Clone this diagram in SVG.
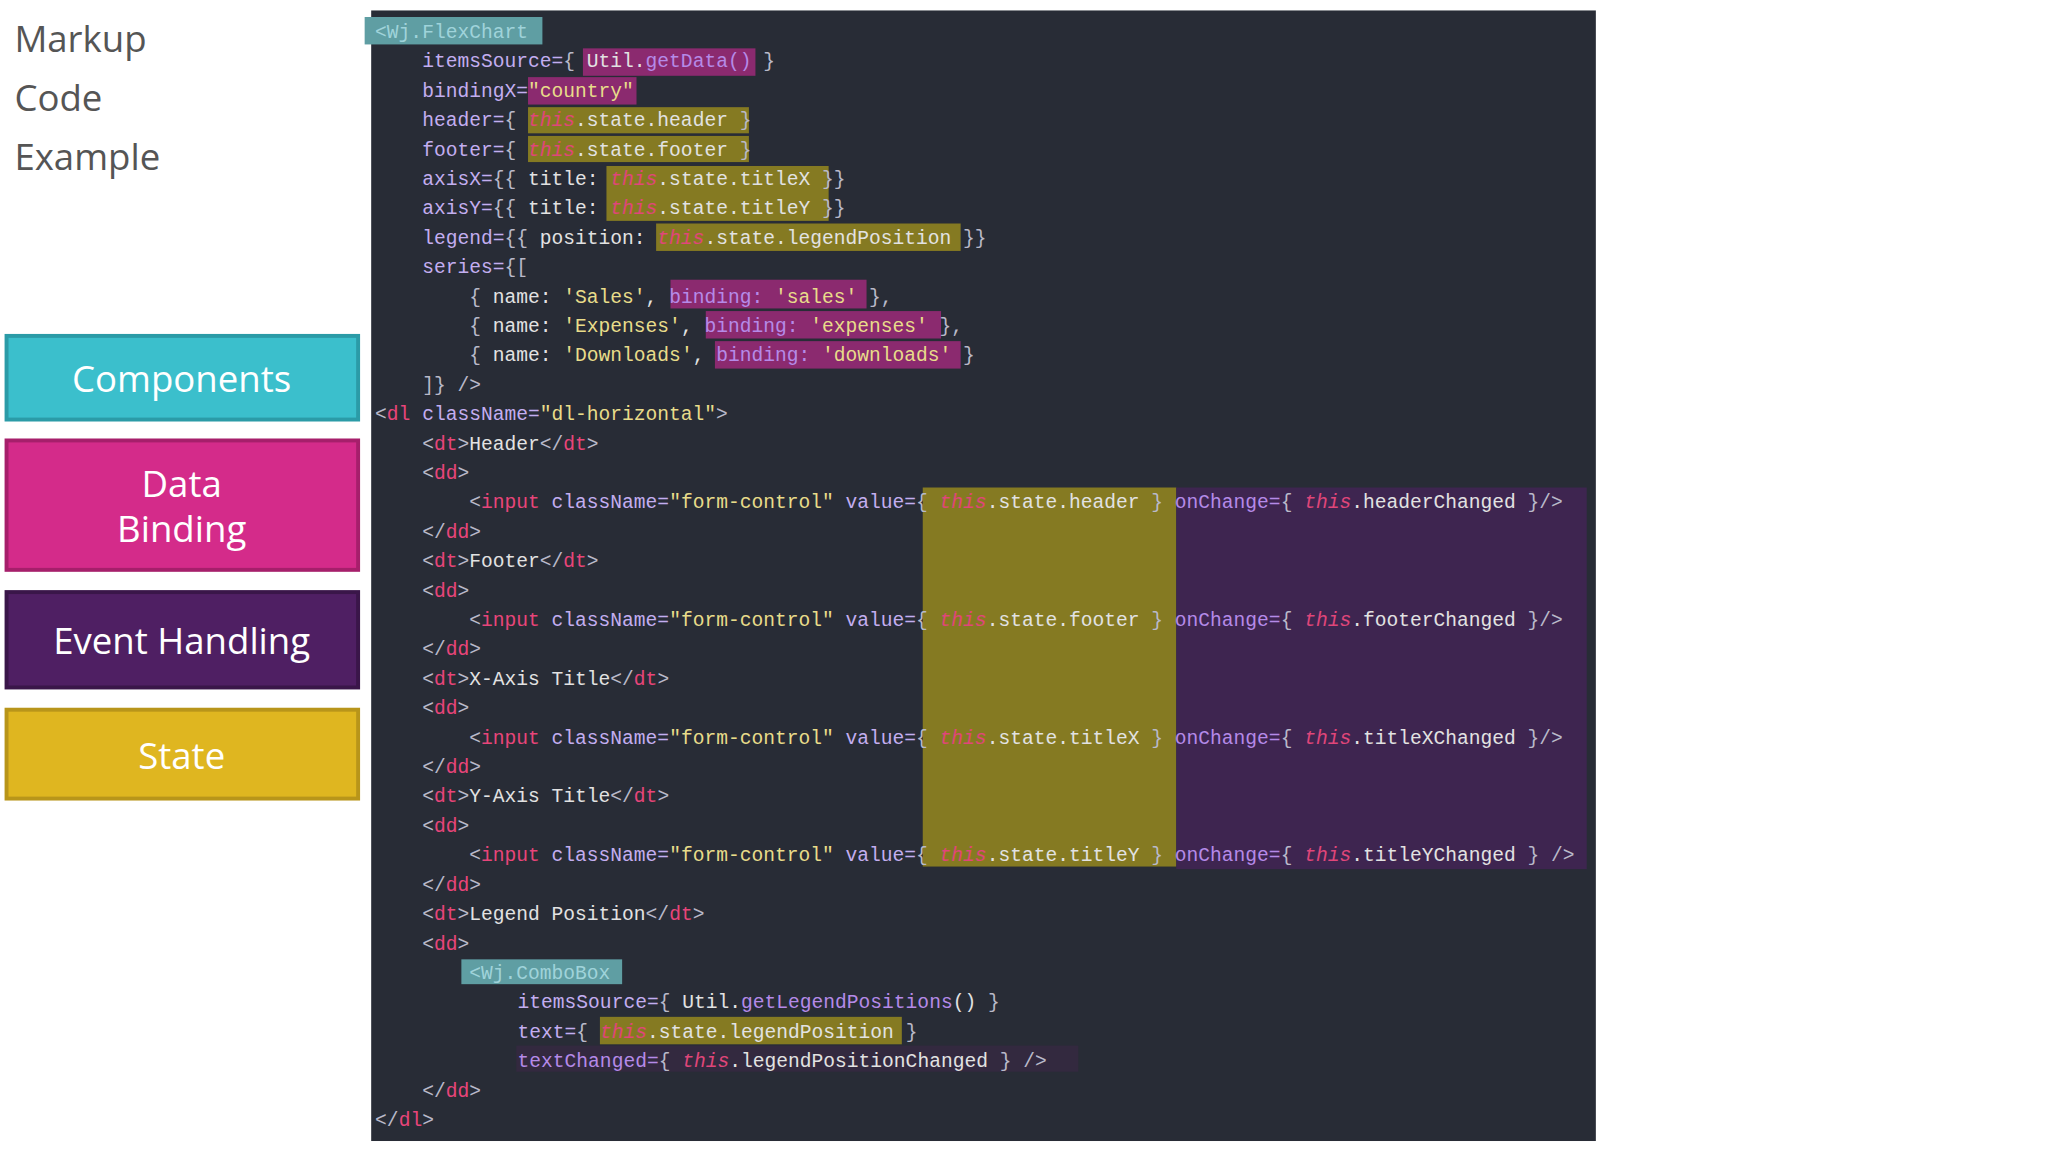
<svg xmlns="http://www.w3.org/2000/svg" width="2048" height="1152" viewBox="0 0 2048 1152">
<style>
.code{font-family:"Liberation Mono","DejaVu Sans Mono",monospace;font-size:15px;fill:#e6e6e6;white-space:pre}
.t{fill:#e8457a}.a{fill:#c3aef0}.s{fill:#e8dc8a}.w{fill:#e2e2e2}.th{fill:#e0467a;font-style:italic}.p{fill:#b9b9c9}.f{fill:#b58ae8}.c{fill:#9fd3da}
.lbl{font-family:"Open Sans","Noto Sans",sans-serif;font-size:28px;fill:#fff;text-anchor:middle}
.side{font-family:"Open Sans","Noto Sans",sans-serif;font-size:28px;fill:#555}
.hm{fill:#8b2a6f}.ho{fill:#857a22}.ht{fill:#5f9ea3}
</style>
<rect width="2048" height="1152" fill="#fff"/>
<g transform="scale(1.307)">
<g id="titles">
<text class="side" x="11" y="40">Markup</text>
<text class="side" x="11" y="85">Code</text>
<text class="side" x="11" y="130">Example</text>
</g>
<g id="components"><rect x="5" y="257" width="269" height="64" fill="#3bbfcc" stroke="#2b9ba7" stroke-width="3"/><text class="lbl" x="139" y="300">Components</text></g>
<g id="databinding"><rect x="5" y="337" width="269" height="99" fill="#d42b8a" stroke="#a61f6b" stroke-width="3"/><text class="lbl" x="139" y="380">Data</text><text class="lbl" x="139" y="415">Binding</text></g>
<g id="eventhandling"><rect x="5" y="453" width="269" height="73" fill="#4f1f63" stroke="#3a1649" stroke-width="3"/><text class="lbl" x="139" y="500">Event Handling</text></g>
<g id="state"><rect x="5" y="543" width="269" height="68" fill="#dfb620" stroke="#b8951a" stroke-width="3"/><text class="lbl" x="139" y="588">State</text></g>
<g id="code">
<rect x="284" y="8" width="937" height="865" fill="#282c36"/>
<rect class="ht" x="279" y="13" width="136" height="21"/>
<rect class="hm" x="446" y="37" width="132" height="21"/>
<rect class="hm" x="404" y="59" width="83" height="21"/>
<rect class="ho" x="404" y="82" width="169" height="20"/>
<rect class="ho" x="404" y="104" width="169" height="20"/>
<rect class="ho" x="464" y="127" width="170" height="42"/>
<rect class="ho" x="502" y="171" width="233" height="21"/>
<rect class="hm" x="513" y="214" width="150" height="22"/>
<rect class="hm" x="540" y="238" width="180" height="21"/>
<rect class="hm" x="547" y="261" width="188" height="21"/>
<rect class="ho" x="706" y="373" width="194" height="290"/>
<rect x="900" y="373" width="314" height="292" fill="#3e2550"/>
<rect class="ht" x="353" y="734" width="123" height="19"/>
<rect class="ho" x="459" y="778" width="231" height="21"/>
<rect x="395" y="800" width="430" height="20" fill="#33293f"/>
<g class="code" xml:space="preserve">
<text x="287" y="29"><tspan class="c">&lt;Wj.FlexChart</tspan></text>
<text x="323" y="51.5"><tspan class="a">itemsSource=</tspan><tspan class="p">{ </tspan><tspan class="w">Util.</tspan><tspan class="f">getData()</tspan><tspan class="p"> }</tspan></text>
<text x="323" y="74"><tspan class="a">bindingX=</tspan><tspan class="s">"country"</tspan></text>
<text x="323" y="96.5"><tspan class="a">header=</tspan><tspan class="p">{ </tspan><tspan class="th">this</tspan><tspan class="w">.state.header </tspan><tspan class="p">}</tspan></text>
<text x="323" y="119"><tspan class="a">footer=</tspan><tspan class="p">{ </tspan><tspan class="th">this</tspan><tspan class="w">.state.footer </tspan><tspan class="p">}</tspan></text>
<text x="323" y="141.5"><tspan class="a">axisX=</tspan><tspan class="p">{{ </tspan><tspan class="w">title: </tspan><tspan class="th">this</tspan><tspan class="w">.state.titleX </tspan><tspan class="p">}}</tspan></text>
<text x="323" y="164"><tspan class="a">axisY=</tspan><tspan class="p">{{ </tspan><tspan class="w">title: </tspan><tspan class="th">this</tspan><tspan class="w">.state.titleY </tspan><tspan class="p">}}</tspan></text>
<text x="323" y="186.5"><tspan class="a">legend=</tspan><tspan class="p">{{ </tspan><tspan class="w">position: </tspan><tspan class="th">this</tspan><tspan class="w">.state.legendPosition </tspan><tspan class="p">}}</tspan></text>
<text x="323" y="209"><tspan class="a">series=</tspan><tspan class="p">{[</tspan></text>
<text x="359" y="231.5"><tspan class="p">{ </tspan><tspan class="w">name: </tspan><tspan class="s">'Sales'</tspan><tspan class="w">, </tspan><tspan class="f">binding: </tspan><tspan class="s">'sales' </tspan><tspan class="p">},</tspan></text>
<text x="359" y="254"><tspan class="p">{ </tspan><tspan class="w">name: </tspan><tspan class="s">'Expenses'</tspan><tspan class="w">, </tspan><tspan class="f">binding: </tspan><tspan class="s">'expenses' </tspan><tspan class="p">},</tspan></text>
<text x="359" y="276.5"><tspan class="p">{ </tspan><tspan class="w">name: </tspan><tspan class="s">'Downloads'</tspan><tspan class="w">, </tspan><tspan class="f">binding: </tspan><tspan class="s">'downloads' </tspan><tspan class="p">}</tspan></text>
<text x="323" y="299"><tspan class="p">]} /&gt;</tspan></text>
<text x="287" y="321.5"><tspan class="p">&lt;</tspan><tspan class="t">dl </tspan><tspan class="a">className=</tspan><tspan class="s">"dl-horizontal"</tspan><tspan class="p">&gt;</tspan></text>
<text x="323" y="344"><tspan class="p">&lt;</tspan><tspan class="t">dt</tspan><tspan class="p">&gt;</tspan><tspan class="w">Header</tspan><tspan class="p">&lt;/</tspan><tspan class="t">dt</tspan><tspan class="p">&gt;</tspan></text>
<text x="323" y="366.5"><tspan class="p">&lt;</tspan><tspan class="t">dd</tspan><tspan class="p">&gt;</tspan></text>
<text x="359" y="389"><tspan class="p">&lt;</tspan><tspan class="t">input </tspan><tspan class="a">className=</tspan><tspan class="s">"form-control" </tspan><tspan class="a">value=</tspan><tspan class="p">{ </tspan><tspan class="th">this</tspan><tspan class="w">.state.header </tspan><tspan class="p">} </tspan><tspan class="f">onChange=</tspan><tspan class="p">{ </tspan><tspan class="th">this</tspan><tspan class="w">.headerChanged </tspan><tspan class="p">}/&gt;</tspan></text>
<text x="323" y="411.5"><tspan class="p">&lt;/</tspan><tspan class="t">dd</tspan><tspan class="p">&gt;</tspan></text>
<text x="323" y="434"><tspan class="p">&lt;</tspan><tspan class="t">dt</tspan><tspan class="p">&gt;</tspan><tspan class="w">Footer</tspan><tspan class="p">&lt;/</tspan><tspan class="t">dt</tspan><tspan class="p">&gt;</tspan></text>
<text x="323" y="456.5"><tspan class="p">&lt;</tspan><tspan class="t">dd</tspan><tspan class="p">&gt;</tspan></text>
<text x="359" y="479"><tspan class="p">&lt;</tspan><tspan class="t">input </tspan><tspan class="a">className=</tspan><tspan class="s">"form-control" </tspan><tspan class="a">value=</tspan><tspan class="p">{ </tspan><tspan class="th">this</tspan><tspan class="w">.state.footer </tspan><tspan class="p">} </tspan><tspan class="f">onChange=</tspan><tspan class="p">{ </tspan><tspan class="th">this</tspan><tspan class="w">.footerChanged </tspan><tspan class="p">}/&gt;</tspan></text>
<text x="323" y="501.5"><tspan class="p">&lt;/</tspan><tspan class="t">dd</tspan><tspan class="p">&gt;</tspan></text>
<text x="323" y="524"><tspan class="p">&lt;</tspan><tspan class="t">dt</tspan><tspan class="p">&gt;</tspan><tspan class="w">X-Axis Title</tspan><tspan class="p">&lt;/</tspan><tspan class="t">dt</tspan><tspan class="p">&gt;</tspan></text>
<text x="323" y="546.5"><tspan class="p">&lt;</tspan><tspan class="t">dd</tspan><tspan class="p">&gt;</tspan></text>
<text x="359" y="569"><tspan class="p">&lt;</tspan><tspan class="t">input </tspan><tspan class="a">className=</tspan><tspan class="s">"form-control" </tspan><tspan class="a">value=</tspan><tspan class="p">{ </tspan><tspan class="th">this</tspan><tspan class="w">.state.titleX </tspan><tspan class="p">} </tspan><tspan class="f">onChange=</tspan><tspan class="p">{ </tspan><tspan class="th">this</tspan><tspan class="w">.titleXChanged </tspan><tspan class="p">}/&gt;</tspan></text>
<text x="323" y="591.5"><tspan class="p">&lt;/</tspan><tspan class="t">dd</tspan><tspan class="p">&gt;</tspan></text>
<text x="323" y="614"><tspan class="p">&lt;</tspan><tspan class="t">dt</tspan><tspan class="p">&gt;</tspan><tspan class="w">Y-Axis Title</tspan><tspan class="p">&lt;/</tspan><tspan class="t">dt</tspan><tspan class="p">&gt;</tspan></text>
<text x="323" y="636.5"><tspan class="p">&lt;</tspan><tspan class="t">dd</tspan><tspan class="p">&gt;</tspan></text>
<text x="359" y="659"><tspan class="p">&lt;</tspan><tspan class="t">input </tspan><tspan class="a">className=</tspan><tspan class="s">"form-control" </tspan><tspan class="a">value=</tspan><tspan class="p">{ </tspan><tspan class="th">this</tspan><tspan class="w">.state.titleY </tspan><tspan class="p">} </tspan><tspan class="f">onChange=</tspan><tspan class="p">{ </tspan><tspan class="th">this</tspan><tspan class="w">.titleYChanged </tspan><tspan class="p">} /&gt;</tspan></text>
<text x="323" y="681.5"><tspan class="p">&lt;/</tspan><tspan class="t">dd</tspan><tspan class="p">&gt;</tspan></text>
<text x="323" y="704"><tspan class="p">&lt;</tspan><tspan class="t">dt</tspan><tspan class="p">&gt;</tspan><tspan class="w">Legend Position</tspan><tspan class="p">&lt;/</tspan><tspan class="t">dt</tspan><tspan class="p">&gt;</tspan></text>
<text x="323" y="726.5"><tspan class="p">&lt;</tspan><tspan class="t">dd</tspan><tspan class="p">&gt;</tspan></text>
<text x="359" y="749"><tspan class="c">&lt;Wj.ComboBox</tspan></text>
<text x="396" y="771.5"><tspan class="a">itemsSource=</tspan><tspan class="p">{ </tspan><tspan class="w">Util.</tspan><tspan class="f">getLegendPositions</tspan><tspan class="w">() </tspan><tspan class="p">}</tspan></text>
<text x="396" y="794"><tspan class="a">text=</tspan><tspan class="p">{ </tspan><tspan class="th">this</tspan><tspan class="w">.state.legendPosition </tspan><tspan class="p">}</tspan></text>
<text x="396" y="816.5"><tspan class="f">textChanged=</tspan><tspan class="p">{ </tspan><tspan class="th">this</tspan><tspan class="w">.legendPositionChanged </tspan><tspan class="p">} /&gt;</tspan></text>
<text x="323" y="839"><tspan class="p">&lt;/</tspan><tspan class="t">dd</tspan><tspan class="p">&gt;</tspan></text>
<text x="287" y="861.5"><tspan class="p">&lt;/</tspan><tspan class="t">dl</tspan><tspan class="p">&gt;</tspan></text>
</g>
</g>
</g>
</svg>
